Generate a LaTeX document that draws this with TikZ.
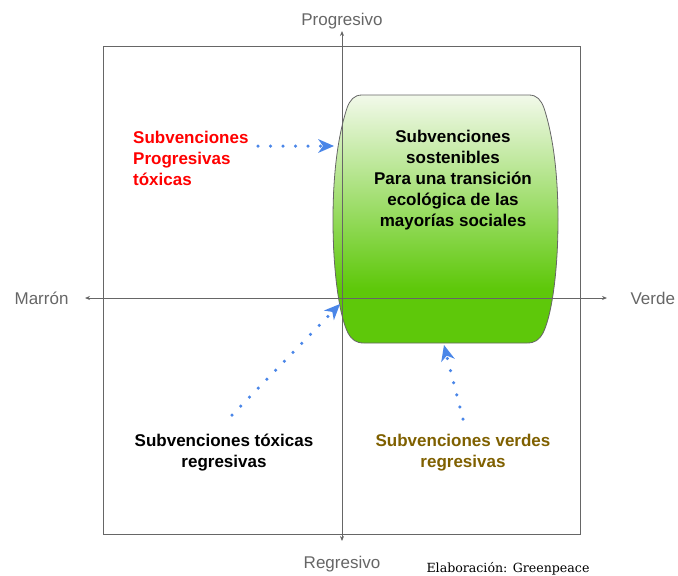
\documentclass[tikz,border=0pt]{standalone}
\usepackage{fontspec}
\setmainfont{Liberation Sans}
\newfontfamily\notefont{DejaVu Serif}
\usetikzlibrary{arrows.meta, positioning}
\definecolor{axisgray}{HTML}{666666}
\definecolor{dotblue}{HTML}{4A86E8}
\definecolor{toxred}{HTML}{FF0000}
\definecolor{mudbrown}{HTML}{7F6000}
\definecolor{palegreen}{HTML}{F2F9EA}
\definecolor{leafgreen}{HTML}{5EC80A}
\pgfdeclareverticalshading{sostshade}{100bp}{color(0bp)=(leafgreen); color(25bp)=(leafgreen); color(36bp)=(leafgreen); color(75bp)=(palegreen); color(100bp)=(palegreen)}
\tikzset{
	axisline/.style={draw=axisgray, line width=0.8pt, {Stealth[length=5pt,width=4pt]}-{Stealth[length=5pt,width=4pt]}},
	axislabel/.style={text=axisgray, font=\fontsize{17}{20}\selectfont},
	tagtext/.style={font=\bfseries\fontsize{17}{21}\selectfont, align=center, inner sep=0pt},
	dotarrow/.style={dotblue, line width=3.5pt, line cap=round, dash pattern=on 0pt off 12.5pt, -{Stealth[length=16pt,width=14pt,inset=5pt,line width=0pt]}},
}

\begin{document}
\begin{tikzpicture}[x=1pt, y=-1pt]
	\useasboundingbox (0,0) rectangle (678,576);
	\draw[axisgray, line width=0.8pt] (103,46) rectangle (580,534);
	\path[shade, shading=sostshade, draw=axisgray, line width=0.8pt]
		(362,95) -- (529,95) .. controls (537,95) and (541,100) .. (544,108)
		.. controls (556,145) and (558,190) .. (558,220)
		.. controls (558,270) and (552,315) .. (543,333)
		.. controls (539,340) and (535,343) .. (527,343) -- (364,343)
		.. controls (356,343) and (352,340) .. (348,333)
		.. controls (339,315) and (333,270) .. (333,220)
		.. controls (333,190) and (335,145) .. (347,108)
		.. controls (350,100) and (354,95) .. (362,95) -- cycle;
	\coordinate (ytop) at (342,31);
	\coordinate (ybot) at (342,541);
	\coordinate (xleft) at (85,298);
	\coordinate (xright) at (607,298);
	\draw[axisline] (ybot) -- (ytop);
	\draw[axisline] (xleft) -- (xright);
	\node[axislabel, above=-2pt of ytop] (progresivo) {Progresivo};
	\node[axislabel, below=12pt of ybot] (regresivo) {Regresivo};
	\node[axislabel, left=13pt of xleft] (marron) {Marrón};
	\node[axislabel, right=20pt of xright] (verde) {Verde};
	\node[tagtext] (sostenibles) at (453,180) {Subvenciones\\sostenibles\\Para una transición\\ecológica de las\\mayorías sociales};
	\node[tagtext, text=toxred, align=left, anchor=west] (toxprog) at (133,158) {Subvenciones\\Progresivas\\tóxicas};
	\node[tagtext] (toxreg) at (224,453) {Subvenciones tóxicas\\regresivas};
	\node[tagtext, text=mudbrown] (verdereg) at (463,453) {Subvenciones verdes\\regresivas};
	\node[font=\notefont\fontsize{12.6}{15}\selectfont] (fuente) at (508,569) {Elaboración: Greenpeace};
	\coordinate (toxprog-from) at (258,146);
	\coordinate (toxprog-to) at (334,146);
	\coordinate (toxreg-from) at (232,415);
	\coordinate (toxreg-to) at (340,304);
	\coordinate (verdereg-from) at (463,419);
	\coordinate (verdereg-to) at (444,345);
	\draw[dotarrow] (toxprog-from) -- (toxprog-to);
	\draw[dotarrow] (toxreg-from) -- (toxreg-to);
	\draw[dotarrow] (verdereg-from) -- (verdereg-to);
\end{tikzpicture}
\end{document}
